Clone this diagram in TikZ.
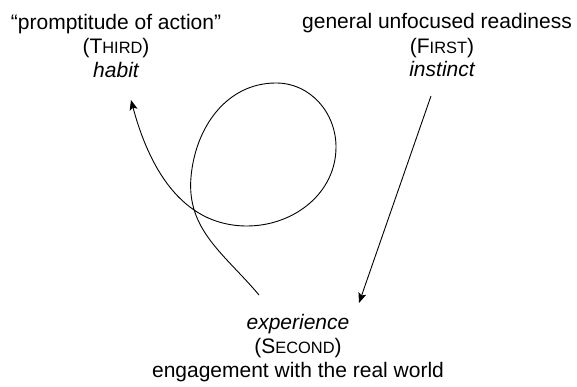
\documentclass[tikz,border=0pt]{standalone}
\usepackage{fontspec}
\setmainfont{Liberation Sans}
\usetikzlibrary{arrows.meta}
\newcommand{\fsc}[2]{#1{\fontsize{16.4}{16.4}\selectfont #2}}
\begin{document}
\begin{tikzpicture}[x=1pt,y=1pt,
  lbl/.style={font=\fontsize{21}{24}\selectfont, inner sep=0pt, anchor=base},
  conn/.style={line width=0.9pt, -{Stealth[length=10pt,width=8pt,inset=2pt]}},
  plain/.style={line width=0.9pt}]
\useasboundingbox (0,0) rectangle (577,387);
% THIRD block
\node[lbl] (t1) at (116,357) {“promptitude of action”};
\node[lbl] (t2) at (116,333) {(\fsc{T}{HIRD})};
\node[lbl] (t3) at (116,309) {\itshape habit};
% FIRST block
\node[lbl] (f1) at (437,358) {general unfocused readiness};
\node[lbl] (f2) at (442,333) {(\fsc{F}{IRST})};
\node[lbl] (f3) at (442,310) {\itshape instinct};
% SECOND block
\node[lbl] (s1) at (298,57) {\itshape experience};
\node[lbl] (s2) at (298,33) {(\fsc{S}{ECOND})};
\node[lbl] (s3) at (298,9) {engagement with the real world};
% connector end points
\coordinate (a0) at (431,291);
\coordinate (a1) at (359,84);
\coordinate (c0) at (259,92);
\coordinate (cl) at (191,210);
\coordinate (ct) at (276,304);
\coordinate (cr) at (336,240);
\coordinate (cb) at (247,161);
\coordinate (c1) at (131,287);
% straight arrow FIRST -> SECOND
\draw[conn] (a0) -- (a1);
% looping arrow SECOND -> THIRD
\draw[conn] (c0) to[out=130,in=-95] (cl)
  to[out=85,in=180] (ct)
  to[out=0,in=90] (cr)
  to[out=-90,in=0] (cb)
  to[out=180,in=-75] (c1);
\end{tikzpicture}
\end{document}
